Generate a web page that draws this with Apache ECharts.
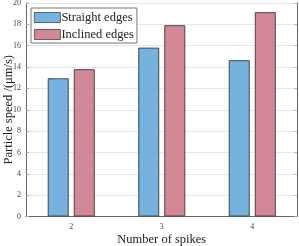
<!DOCTYPE html>
<html><head><meta charset="utf-8">
<script src="https://cdn.jsdelivr.net/npm/echarts@6/dist/echarts.min.js"></script>
<style>html,body{margin:0;padding:0;background:#fff}#c{width:299px;height:246px}</style>
</head><body><div id="c"></div>
<script>
const categories = ['2', '3', '4'];
const straightEdges = [12.95, 15.82, 14.64];
const inclinedEdges = [13.8, 17.92, 19.14];
const seriesNames = ['Straight edges', 'Inclined edges'];
const yTicks = [0, 2, 4, 6, 8, 10, 12, 14, 16, 18, 20];

const ff = '"Liberation Serif", "Times New Roman", serif';
const axisCol = '#666';
const chart = echarts.init(document.getElementById('c'), null, {renderer: 'canvas'});
chart.setOption({
  animation: false,
  grid: {left: 26, right: 1.5, top: 3, bottom: 29.5, containLabel: false, outerBoundsMode: 'none'},
  legend: {
    data: seriesNames, orient: 'vertical', left: 31, top: 8, icon: 'rect',
    itemWidth: 26, itemHeight: 10, itemGap: 4, padding: [3, 3, 2, 3],
    backgroundColor: '#fff', borderColor: '#777', borderWidth: 1, borderRadius: 0,
    itemStyle: {borderWidth: 0.8},
    textStyle: {fontFamily: ff, fontSize: 12.5, color: '#222', padding: [0, 0, 0, -4]}
  },
  xAxis: [{
    type: 'category', data: categories, position: 'bottom',
    name: 'Number of spikes', nameLocation: 'middle', nameGap: 17, nameMoveOverlap: false,
    nameTextStyle: {fontFamily: ff, fontSize: 12.5, color: '#222'},
    axisLine: {lineStyle: {color: axisCol}},
    axisTick: {alignWithLabel: true, inside: true, length: 3, lineStyle: {color: '#aaa'}},
    axisLabel: {fontFamily: ff, fontSize: 8, color: '#444', margin: 6}
  }, {
    type: 'category', data: categories, position: 'top',
    axisLine: {lineStyle: {color: axisCol}},
    axisTick: {alignWithLabel: true, inside: true, length: 3, lineStyle: {color: '#aaa'}},
    axisLabel: {show: false}
  }],
  yAxis: [{
    type: 'value', min: 0, max: 20, interval: 2, position: 'left',
    name: 'Particle speed /(μm/s)', nameLocation: 'middle', nameGap: 11, nameMoveOverlap: false,
    nameTextStyle: {fontFamily: ff, fontSize: 12.5, color: '#222'},
    axisLine: {show: true, lineStyle: {color: axisCol}},
    axisTick: {show: true, inside: true, length: 3, lineStyle: {color: '#aaa'}},
    axisLabel: {fontFamily: ff, fontSize: 8, color: '#444', margin: 5,
      formatter: v => yTicks.includes(v) ? String(v) : ''},
    splitLine: {lineStyle: {color: '#e6e6e6', width: 1}}
  }, {
    type: 'value', min: 0, max: 20, interval: 2, position: 'right',
    axisLine: {show: true, lineStyle: {color: axisCol}},
    axisTick: {show: true, inside: true, length: 3, lineStyle: {color: '#aaa'}},
    axisLabel: {show: false}, splitLine: {show: false}
  }],
  series: [{
    name: seriesNames[0], type: 'bar', data: straightEdges, barWidth: 21, barGap: '24%',
    itemStyle: {color: 'rgba(100,166,216,0.88)', borderColor: '#3e4a55', borderWidth: 1}
  }, {
    name: seriesNames[1], type: 'bar', data: inclinedEdges, barWidth: 21, barGap: '24%',
    itemStyle: {color: 'rgba(200,110,128,0.82)', borderColor: '#5a3a42', borderWidth: 1}
  }]
});
</script></body></html>
